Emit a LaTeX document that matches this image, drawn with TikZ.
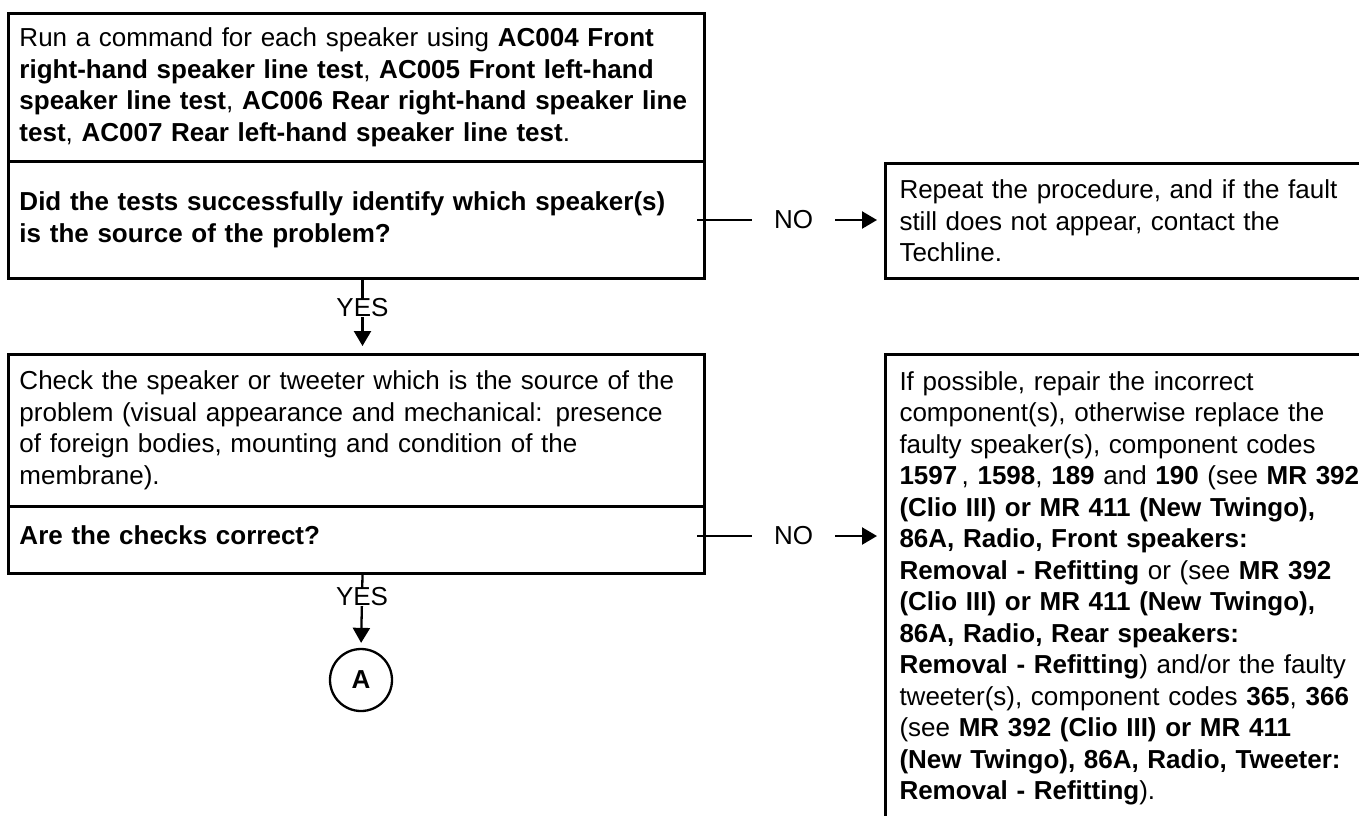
\documentclass[tikz,border=0pt]{standalone}
\usepackage{fontspec}
\setmainfont{Liberation Sans}
\usetikzlibrary{shapes,arrows.meta,positioning}
\tikzstyle{textbox} = [draw, rectangle, line width=3pt, anchor=north west, align=left, inner ysep=0pt, font=\fontsize{26}{31.5}\selectfont]
\tikzstyle{block} = [textbox, inner xsep=11pt, text width=674pt, minimum width=696pt]
\tikzstyle{result} = [textbox, inner xsep=14pt, text width=490pt, minimum width=518pt]
\tikzstyle{connector} = [draw, circle, line width=2.3pt, minimum size=62pt, inner sep=0pt, font=\fontsize{26}{31.5}\selectfont\bfseries]
\tikzstyle{answer} = [fill=white, inner sep=0pt, font=\fontsize{26}{31.5}\selectfont]
\tikzstyle{wire} = [draw, line width=2.3pt]

\begin{document}
\begin{tikzpicture}[x=1pt, y=-1pt, >={Triangle[length=15pt,width=17pt]}]
    \path [use as bounding box, clip] (0,0) rectangle (1359,815);

    % Drawing blocks and nodes
    \node [block, minimum height=148pt] (test) at (7,12) {Run a command for each speaker using \textbf{AC004 Front}\\
        \textbf{right-hand speaker line test}, \textbf{AC005 Front left-hand}\\
        \textbf{speaker line test}, \textbf{AC006 Rear right-hand speaker line}\\
        \textbf{test}, \textbf{AC007 Rear left-hand speaker line test}.};
    \node [block, minimum height=117pt] (testq) at (7,160) {\textbf{Did the tests successfully identify which speaker(s)}\\
        \textbf{is the source of the problem?}};
    \node [block, minimum height=152pt] (check) at (7,353) {Check the speaker or tweeter which is the source of the\\
        problem (visual appearance and mechanical: presence\\
        of foreign bodies, mounting and condition of the\\
        membrane).};
    \node [block, minimum height=67pt, text depth=9pt] (checkq) at (7,505) {\textbf{Are the checks correct?}};
    \node [result, minimum height=115pt] (repeat) at (884,162) {Repeat the procedure, and if the fault\\
        still does not appear, contact the\\
        Techline.};
    \node [result, minimum height=468pt] (repair) at (884,353) {If possible, repair the incorrect\\
        component(s), otherwise replace the\\
        faulty speaker(s), component codes\\
        \textbf{1597}\,, \textbf{1598}, \textbf{189} and \textbf{190} (see \textbf{MR 392}\\
        \textbf{(Clio III) or MR 411 (New Twingo),}\\
        \textbf{86A, Radio, Front speakers:}\\
        \textbf{Removal - Refitting} or (see \textbf{MR 392}\\
        \textbf{(Clio III) or MR 411 (New Twingo),}\\
        \textbf{86A, Radio, Rear speakers:}\\
        \textbf{Removal - Refitting}) and/or the faulty\\
        tweeter(s), component codes \textbf{365}, \textbf{366}\\
        (see \textbf{MR 392 (Clio III) or MR 411}\\
        \textbf{(New Twingo), 86A, Radio, Tweeter:}\\
        \textbf{Removal - Refitting}).};
    \node [connector] (A) at (361,680) {A};

    % Connectors
    \draw [wire,->,shorten >=7pt] ([xshift=-9pt]testq.east) -- node [answer, inner xsep=22pt, pos=0.516] {NO} (testq.east -| repeat.west);
    \draw [wire,->,shorten >=7pt] ([xshift=-9pt,yshift=4pt]checkq.east) -- node [answer, inner xsep=22pt, pos=0.516] {NO} ([yshift=4pt]checkq.east -| repair.west);
    \draw [wire,->,shorten >=7pt] ([xshift=6pt]testq.south) -- node [answer, pos=0.38] {YES} ([xshift=6pt]check.north);
    \draw [wire,->,shorten >=5pt] ([xshift=6pt]checkq.south) -- node [answer, pos=0.3] {YES} (A.north);
\end{tikzpicture}
\end{document}
